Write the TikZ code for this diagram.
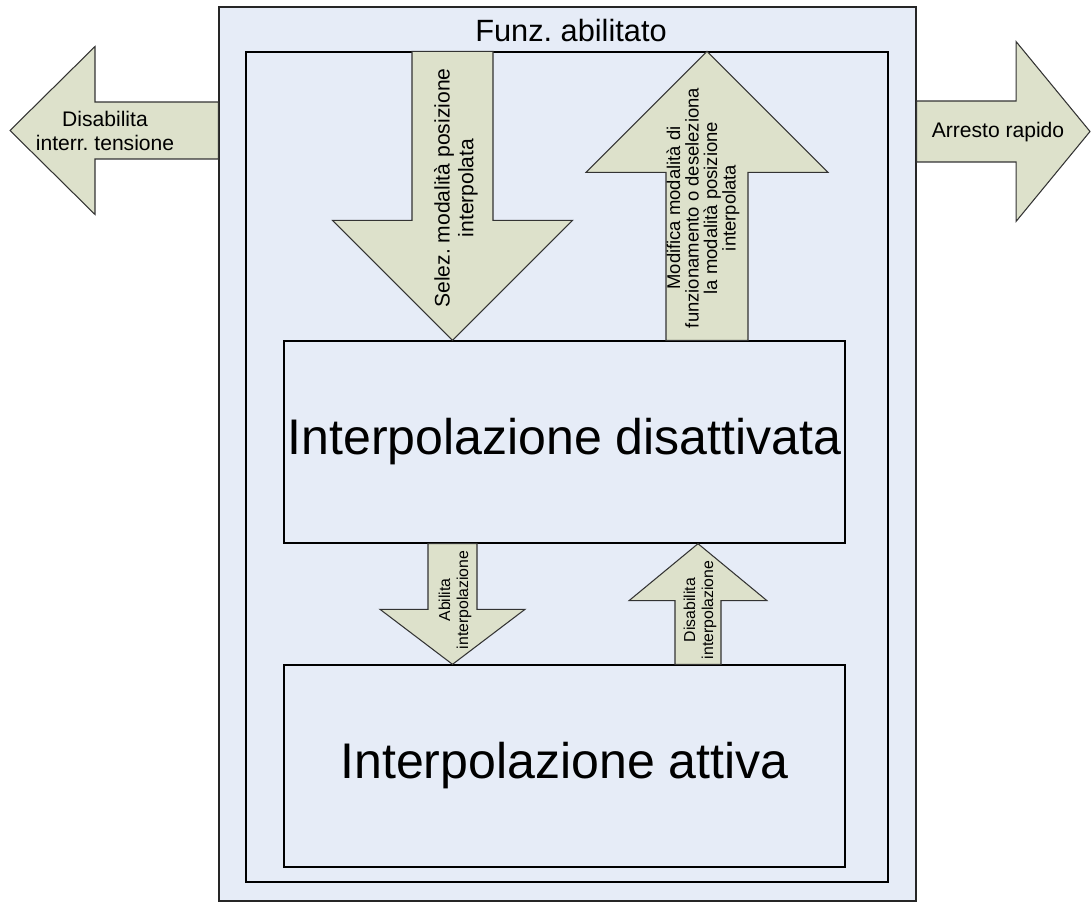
\documentclass[tikz,border=0pt]{standalone}
\usepackage{fontspec}
\setmainfont{Liberation Sans}
\usetikzlibrary{calc}
\definecolor{panelblue}{HTML}{E6ECF7}
\definecolor{arrowgreen}{HTML}{DDE1CB}
% block arrow from tail (#2) to tip (#3), sizes shaft:head:head length
\def\blockarrow[#1](#2)(#3)(#4:#5:#6){%
  \coordinate (neck) at ($(#3)!#6!(#2)$);
  \draw[#1] ($(#2)!#4!90:(#3)$) -- ($(neck)!#4!90:(#3)$) -- ($(neck)!#5!90:(#3)$) -- (#3)
    -- ($(neck)!#5!-90:(#3)$) -- ($(neck)!#4!-90:(#3)$) -- ($(#2)!#4!-90:(#3)$) -- cycle;}

\begin{document}
\frenchspacing
\begin{tikzpicture}[x=0.02cm, y=-0.02cm,
    zone/.style={draw=black!85, line width=0.8pt, fill=panelblue, inner sep=0pt},
    state/.style={draw=black, line width=0.8pt, fill=panelblue, inner sep=0pt,
      minimum width=11.22cm, minimum height=4.04cm, font=\fontsize{28.5}{32}\selectfont},
    flow/.style={draw=black!80, line width=0.6pt, fill=arrowgreen, line join=miter},
    titletext/.style={font=\fontsize{17.5}{20}\selectfont},
    sidetext/.style={align=center, font=\fontsize{12}{13.5}\selectfont},
    notetext/.style={align=center, font=\fontsize{10.5}{10.5}\selectfont},
    hinttext/.style={align=center, font=\fontsize{9}{10.2}\selectfont}]
  \useasboundingbox (0,0) rectangle (1091,902);

  %%% frames and states
  \node[zone, minimum width=13.94cm, minimum height=17.88cm] (enabled) at (567.5,454) {};
  \node[zone, draw=black, minimum width=12.84cm, minimum height=16.6cm] (frame) at (567,467) {};
  \node[titletext] (enabledlbl) at (571,31) {Funz. abilitato};
  \node[state] (idle) at (564.5,442) {Interpolazione disattivata};
  \node[state] (active) at (564.5,766) {Interpolazione attiva};

  %%% arrow ends
  \coordinate (offtip) at (10,130.5);
  \coordinate (offtail) at (enabled.west |- offtip);
  \coordinate (halttip) at (1090,131.5);
  \coordinate (halttail) at (enabled.east |- halttip);
  \coordinate (selecttail) at (frame.north -| 452.5,0);
  \coordinate (selecttip) at (idle.north -| 452.5,0);
  \coordinate (leavetail) at (idle.north -| 707,0);
  \coordinate (leavetip) at (frame.north -| 707,0);
  \coordinate (ontail) at (idle.south -| 452.5,0);
  \coordinate (ontip) at (active.north -| 452.5,0);
  \coordinate (releasetail) at (active.north -| 698,0);
  \coordinate (releasetip) at (idle.south -| 698,0);

  \blockarrow[flow](offtail)(offtip)(0.57cm:1.68cm:1.7cm)
  \blockarrow[flow](halttail)(halttip)(0.61cm:1.8cm:1.48cm)
  \blockarrow[flow](selecttail)(selecttip)(0.81cm:2.4cm:2.4cm)
  \blockarrow[flow](leavetail)(leavetip)(0.82cm:2.42cm:2.42cm)
  \blockarrow[flow](ontail)(ontip)(0.49cm:1.45cm:1.1cm)
  \blockarrow[flow](releasetail)(releasetip)(0.46cm:1.38cm:1.14cm)

  %%% arrow labels
  \node[sidetext] (offlbl) at (105,131) {Disabilita\\interr. tensione};
  \node[sidetext] (haltlbl) at (998,132) {Arresto rapido};
  \node[sidetext, rotate=90] (selectlbl) at (456,188) {Selez. modalità posizione\\interpolata};
  \node[notetext, rotate=90] (leavelbl) at (703,208) {Modifica modalità di\\funzionamento o deseleziona\\la modalità posizione\\interpolata};
  \node[hinttext, rotate=90] (onlbl) at (455,600) {Abilita\\interpolazione};
  \node[hinttext, rotate=90] (releaselbl) at (700,610) {Disabilita\\interpolazione};
\end{tikzpicture}
\end{document}
